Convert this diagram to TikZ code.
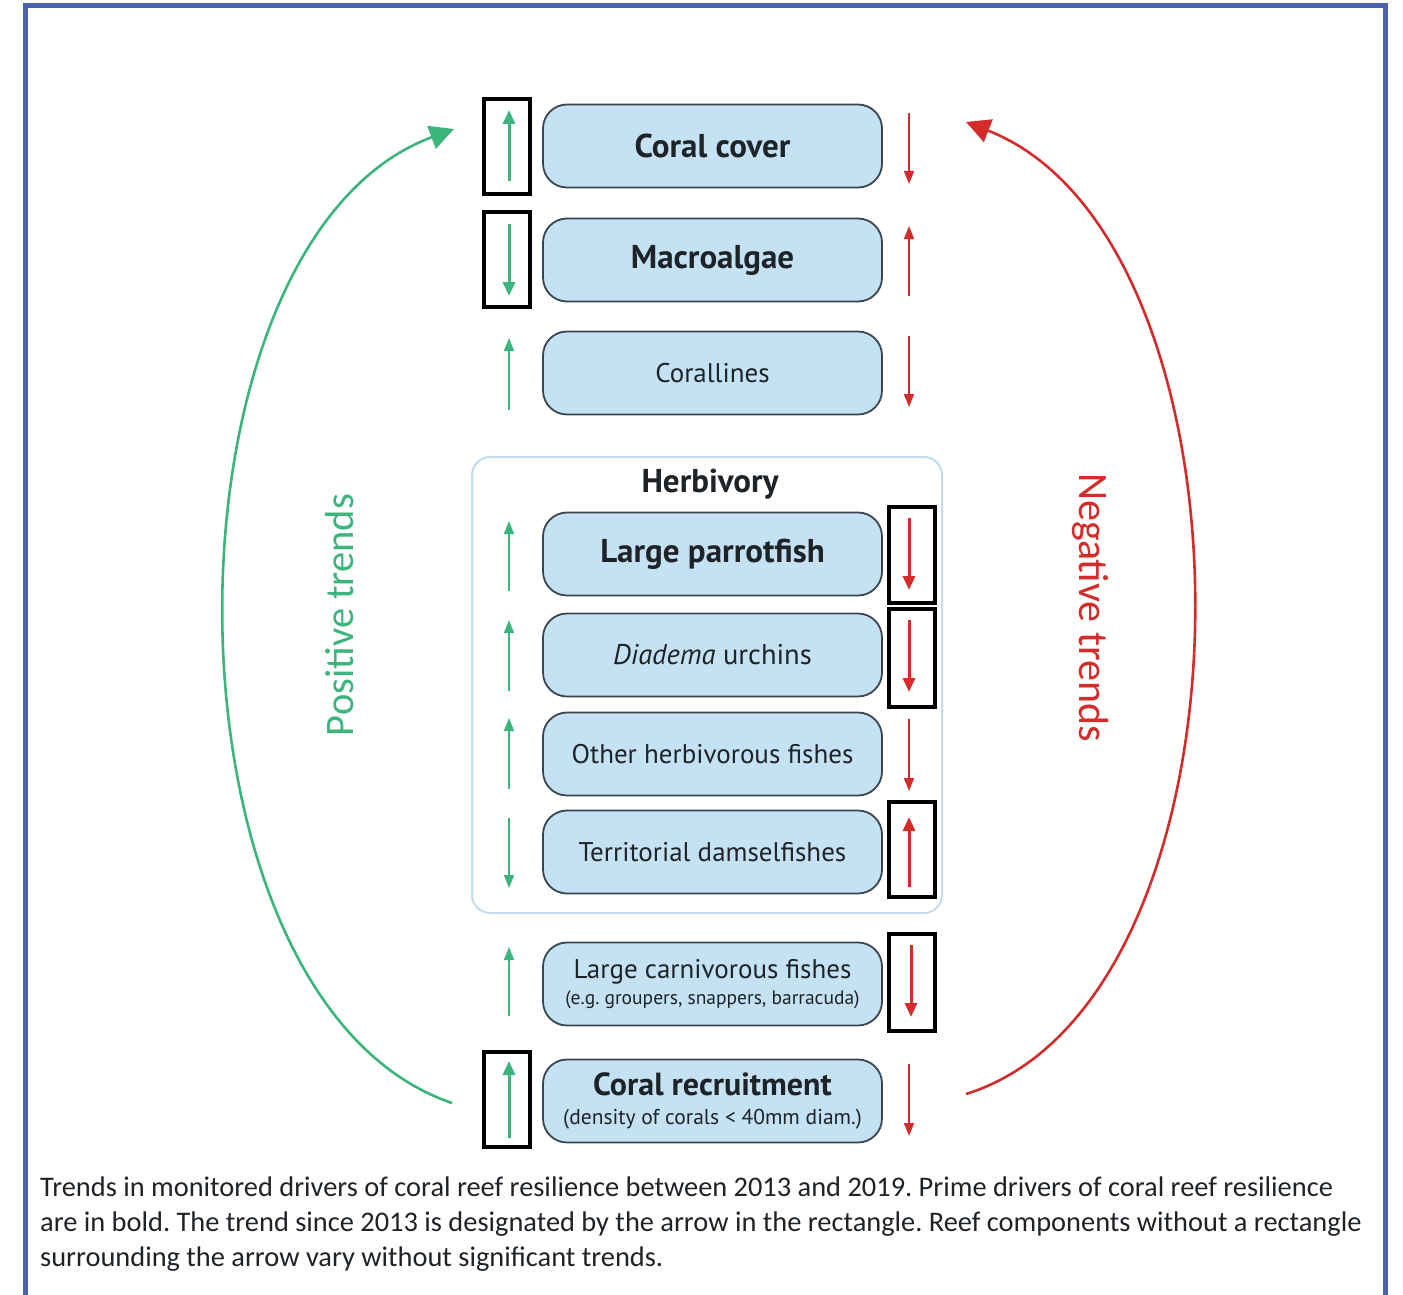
\documentclass[tikz,border=0pt]{standalone}
\usepackage{fontspec}
\setmainfont{PT Sans}
\newfontfamily\capfont{Carlito}
\usetikzlibrary{arrows.meta}
\definecolor{frame}{HTML}{4A62AE}
\definecolor{boxfill}{HTML}{C4E2F3}
\definecolor{boxline}{HTML}{3A4550}
\definecolor{herbline}{HTML}{C2DCEE}
\definecolor{tgreen}{HTML}{3BB57C}
\definecolor{tred}{HTML}{D42B2B}
\definecolor{txt}{HTML}{1E2328}
\begin{document}
\frenchspacing
\begin{tikzpicture}[x=1pt,y=-1pt,
 item/.style={draw=boxline, line width=1.8pt, fill=boxfill, rounded corners=24pt,
   minimum width=339pt, minimum height=83pt, inner sep=0pt, align=center, text=txt},
 trendbox/.style={draw=black, line width=4pt, minimum width=46pt, minimum height=95pt, inner sep=0pt},
 gthick/.style={draw=tgreen, line width=3pt, -{Triangle[length=14pt,width=12pt]}},
 gthin/.style={draw=tgreen, line width=1.6pt, -{Triangle[length=13pt,width=10pt]}},
 rthick/.style={draw=tred, line width=3pt, -{Triangle[length=14pt,width=12pt]}},
 rthin/.style={draw=tred, line width=1.6pt, -{Triangle[length=13pt,width=10pt]}},
 big/.style={font=\fontsize{33}{36}\selectfont\bfseries},
 reg/.style={font=\fontsize{27}{30}\selectfont},
]
\useasboundingbox (0,0) rectangle (1403,1295);
\fill[white] (0,0) rectangle (1403,1295);
\draw[frame, line width=5pt] (25.5,1300) -- (25.5,5.5) -- (1385.5,5.5) -- (1385.5,1300);

% herbivory group
\node[draw=herbline, line width=2pt, rounded corners=18pt, minimum width=470pt, minimum height=456pt] (herb) at (707,685) {};
\node[font=\fontsize{33}{36}\selectfont\bfseries, text=txt] (herbt) at (710,484) {Herbivory};

% items
\node[item, big] (cc) at (712.5,146) {Coral cover};
\node[item, big] (ma) at (712.5,260) {Macroalgae};
\node[item, reg] (co) at (712.5,373) {Corallines};
\node[item, big] (lp) at (712.5,554) {Large parrotfish};
\node[item, font=\fontsize{28.5}{30}\selectfont] (di) at (712.5,655) {\textit{Diadema} urchins};
\node[item, reg] (oh) at (712.5,754) {Other herbivorous fishes};
\node[item, reg] (td) at (712.5,852) {Territorial damselfishes};
\node[item, font=\fontsize{19.5}{26}\selectfont] (lc) at (712.5,984) {{\fontsize{27}{30}\selectfont Large carnivorous fishes}\\(e.g. groupers, snappers, barracuda)};
\node[item, font=\fontsize{21.5}{29}\selectfont] (cr) at (712.5,1101) {{\fontsize{32}{34}\selectfont\bfseries Coral recruitment}\\(density of corals < 40mm diam.)};

% trend rectangles
\node[trendbox] (b1) at (506.5,146.5) {};
\node[trendbox] (b2) at (506.5,259) {};
\node[trendbox] (b3) at (506.5,1099) {};
\node[trendbox, minimum height=96pt] (b4) at (911.5,555) {};
\node[trendbox, minimum height=98pt] (b5) at (911.5,658) {};
\node[trendbox] (b6) at (911.5,849) {};
\node[trendbox, minimum height=97pt] (b7) at (912,982.5) {};

% left (positive) trend arrows
\draw[gthick] (509,181) -- (509,110);
\draw[gthick] (509,224) -- (509,296);
\draw[gthin] (509,410) -- (509,338);
\draw[gthin] (509,591) -- (509,521);
\draw[gthin] (509,691) -- (509,620);
\draw[gthin] (509,789) -- (509,718);
\draw[gthin] (509,818) -- (509,888);
\draw[gthin] (509,1016) -- (509,947);
\draw[gthick] (509,1138) -- (509,1061);

% right (negative) trend arrows
\draw[rthin] (909,113) -- (909,184);
\draw[rthin] (909,296) -- (909,226);
\draw[rthin] (909,336) -- (909,407);
\draw[rthick] (909,518) -- (909,590);
\draw[rthick] (909,620) -- (909,692);
\draw[rthin] (909,719) -- (909,791);
\draw[rthick] (909,887) -- (909,817);
\draw[rthick] (911,945) -- (911,1017);
\draw[rthin] (909,1064) -- (909,1136);

% big arcs
\coordinate (gs) at (452,1103);
\coordinate (ge) at (454,129);
\coordinate (rs) at (966,1094);
\coordinate (re) at (966,122);
\draw[tgreen, line width=2.6pt, -{Triangle[length=24pt,width=24pt]}] (gs) .. controls (149,1000) and (149,242) .. (ge);
\draw[tred, line width=2.6pt, -{Triangle[length=24pt,width=24pt]}] (rs) .. controls (1268,1000) and (1268,240) .. (re);

\node[rotate=90, text=tgreen, font=\capfont\fontsize{40.5}{44}\selectfont] (pos) at (340,615) {Positive trends};
\node[rotate=-90, text=tred, font=\capfont\fontsize{42}{44}\selectfont] (neg) at (1090,607.5) {Negative trends};

% caption
\node[anchor=base west, align=left, inner sep=0pt, text=txt, font=\capfont\fontsize{28.4}{35}\selectfont] (cap) at (40,1266)
 {Trends in monitored drivers of coral reef resilience between 2013 and 2019. Prime drivers of coral reef resilience\\
  are in bold. The trend since 2013 is designated by the arrow in the rectangle. Reef components without a rectangle\\
  surrounding the arrow vary without significant trends.};
\end{tikzpicture}
\end{document}
